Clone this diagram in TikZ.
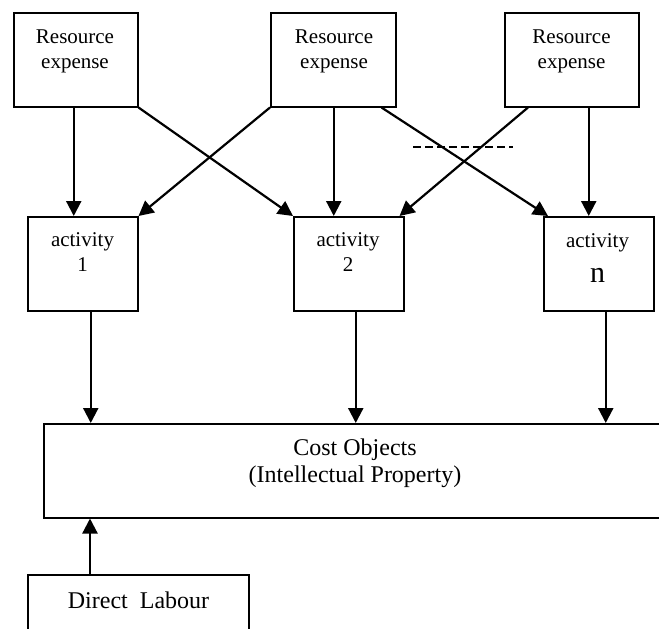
\documentclass[tikz,border=0pt]{standalone}
\usepackage{fontspec}
\setmainfont{Liberation Serif}
\usetikzlibrary{arrows.meta,calc}
\begin{document}
\begin{tikzpicture}[x=1pt,y=-1pt,
  box/.style={draw, line width=1.5pt, inner sep=0pt, anchor=north west},
  lbl/.style={align=center, inner sep=0pt, anchor=base},
  fs/.style={font=\fontsize{21}{25}\selectfont},
  big/.style={font=\fontsize{24}{27}\selectfont},
  arr/.style={-{Triangle[length=15pt,width=15pt]}, line width=2.2pt}]
\clip (0,0) rectangle (659,629);
% resource boxes
\node[box, minimum width=124pt, minimum height=94pt] (r1) at (13,12) {};
\node[box, minimum width=125pt, minimum height=94pt] (r2) at (270,12) {};
\node[box, minimum width=134pt, minimum height=94pt] (r3) at (504,12) {};
\node[lbl, fs] (r1t) at (75,68) {Resource\\expense};
\node[lbl, fs] (r2t) at (334,68) {Resource\\expense};
\node[lbl, fs] (r3t) at (571.5,68) {Resource\\expense};
% activity boxes
\node[box, minimum width=110pt, minimum height=94pt] (a1) at (27,216) {};
\node[box, minimum width=110pt, minimum height=94pt] (a2) at (293,216) {};
\node[box, minimum width=110pt, minimum height=94pt] (an) at (543,216) {};
\node[lbl, fs] (a1t) at (82.5,271) {activity\\1};
\node[lbl, fs] (a2t) at (348,271) {activity\\2};
\node[lbl, fs] (ant) at (597.5,282) {activity\\[10pt]{\fontsize{30}{30}\selectfont n}};
% cost objects
\node[box, minimum width=624pt, minimum height=94pt] (cost) at (43,423) {};
\node[lbl, big] (costt) at (355,482) {Cost Objects\\(Intellectual Property)};
% direct labour
\node[box, minimum width=221pt, minimum height=100pt] (dl) at (27,574) {};
\node[lbl, big] (dlt) at (138.5,608) {Direct~~Labour};
% connectors
\draw[arr] ($(r1.south)+(-2,0)$) -- ($(r1.south |- a1.north)+(-2,0)$);
\draw[arr] (r1.south east) -- (a2.north west);
\draw[arr] (r2.south west) -- (a1.north east);
\draw[arr] ($(r2.south)+(0.5,0)$) -- ($(r2.south |- a2.north)+(0.5,0)$);
\draw[arr] ($(r2.south east)+(-15,0)$) -- ($(an.north west)+(5,0)$);
\draw[arr] ($(r3.south west)+(24,0)$) -- ($(a2.north east)+(-5,0)$);
\draw[arr] ($(r3.south)+(17,0)$) -- ($(r3.south |- an.north)+(17,0)$);
\draw[arr] ($(a1.south)+(8,0)$) -- ($(a1.south |- cost.north)+(8,0)$);
\draw[arr] ($(a2.south)+(7,0)$) -- ($(a2.south |- cost.north)+(7,0)$);
\draw[arr] ($(an.south)+(7,0)$) -- ($(an.south |- cost.north)+(7,0)$);
\draw[arr] ($(dl.north west)+(63,0)$) -- ($(dl.north west |- cost.south)+(63,0)$);
% dashed mark
\coordinate (d1) at (413,147);
\coordinate (d2) at (513,147);
\draw[line width=1.5pt, dash pattern=on 8pt off 4pt] (d1) -- (d2);
\end{tikzpicture}
\end{document}
